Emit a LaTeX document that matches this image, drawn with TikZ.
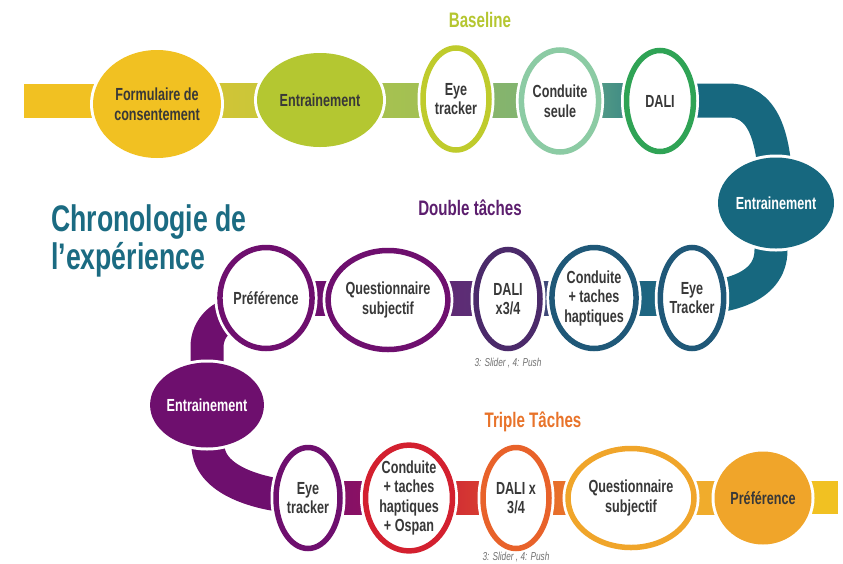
\documentclass[tikz,border=0pt]{standalone}
\usepackage{fontspec}
\setmainfont{Liberation Sans}[FakeStretch=0.72]
\usetikzlibrary{shapes.geometric,backgrounds}

% palette
\definecolor{cSun}{HTML}{F1C122}
\definecolor{cLime}{HTML}{B4C731}
\definecolor{cLimeRing}{HTML}{BFCB2C}
\definecolor{cMint}{HTML}{8CCBA4}
\definecolor{cLeaf}{HTML}{2FA355}
\definecolor{cPetrol}{HTML}{17687F}
\definecolor{cNavy}{HTML}{1F5878}
\definecolor{cGrape}{HTML}{4B2A6A}
\definecolor{cPlum}{HTML}{6E0F6E}
\definecolor{cCherry}{HTML}{D3202F}
\definecolor{cRust}{HTML}{E8622A}
\definecolor{cAmber}{HTML}{F0A52A}
\definecolor{cInk}{HTML}{383838}
\definecolor{cTitle}{HTML}{1B6B82}
\definecolor{cBase}{HTML}{B5C630}
\definecolor{cDouble}{HTML}{5C1E6E}
\definecolor{cTriple}{HTML}{E8732A}
\definecolor{cNote}{HTML}{707070}
% band shades
\definecolor{bA1}{HTML}{DCC530}
\definecolor{bA2}{HTML}{BFC63F}
\definecolor{bA3}{HTML}{AEC34C}
\definecolor{bA4}{HTML}{9EBF55}
\definecolor{bA5}{HTML}{8DB766}
\definecolor{bA6}{HTML}{7BB176}
\definecolor{bA7}{HTML}{6BAE8B}
\definecolor{bA8}{HTML}{2A7A80}
\definecolor{bB1}{HTML}{1F6080}
\definecolor{bB2}{HTML}{1E6A82}
\definecolor{bB3}{HTML}{4E3A74}
\definecolor{bB4}{HTML}{2C5A7C}
\definecolor{bB5}{HTML}{6A2070}
\definecolor{bB6}{HTML}{553478}
\definecolor{bC1}{HTML}{7C0F6C}
\definecolor{bC2}{HTML}{96125C}
\definecolor{bC3}{HTML}{C8183A}
\definecolor{bC4}{HTML}{DE4E2C}
\definecolor{bC5}{HTML}{E4602A}
\definecolor{bC6}{HTML}{EE8A2C}
\definecolor{bC7}{HTML}{F0AC2C}

\newcommand{\stagefont}{\fontsize{17.5}{19.5}\selectfont\bfseries}
\newcommand{\phasefont}{\fontsize{21}{24}\selectfont\bfseries}
\newcommand{\titlefont}{\fontsize{37}{38}\selectfont\bfseries}
\newcommand{\notefont}{\fontsize{11.5}{13}\selectfont\itshape}
% straight piece of the band between two stages of one row
\newcommand{\seg}[5] {
    \fill[left color=#4,right color=#5] (#1.center |- top#3) rectangle (#2.center |- bot#3);
}

\begin{document}
\begin{tikzpicture}[x=1pt,y=-1pt,
    stage/.style={ellipse,inner sep=0pt,align=center,text=cInk,font=\stagefont},
    ring/.style={stage,draw=#1,line width=5.5pt,fill=white,
        preaction={draw=white,line width=11pt}},
    blob/.style={stage,fill=#1,preaction={draw=white,line width=6pt}},
    band/.style={draw=#1,line width=33pt},
    phase/.style={font=\phasefont},
    note/.style={font=\notefont,text=cNote}
]
    \useasboundingbox (0,0) rectangle (843,563);

    % Baseline
    \node[blob=cSun,minimum width=128,minimum height=108] (f1) at (157,104) {Formulaire de\\consentement};
    \node[blob=cLime,minimum width=126,minimum height=94] (e1) at (320,100) {Entrainement};
    \node[ring=cLimeRing,minimum width=66,minimum height=102] (t1) at (456,99) {Eye\\tracker};
    \node[ring=cMint,minimum width=70,minimum height=102] (c1) at (560,101) {Conduite\\seule};
    \node[ring=cLeaf,minimum width=67,minimum height=101] (d1) at (660,101) {DALI};
    \node[blob=cPetrol,minimum width=116,minimum height=91,text=white] (e2) at (776,203) {Entrainement};

    % Double taches
    \node[ring=cNavy,minimum width=57,minimum height=101] (t2) at (692,298) {Eye\\Tracker};
    \node[ring=cNavy,minimum width=72,minimum height=101] (c2) at (594,298) {Conduite\\+ taches\\haptiques};
    \node[ring=cGrape,minimum width=64,minimum height=99] (d2) at (508,299) {DALI\\x3/4};
    \node[ring=cPlum,minimum width=110,minimum height=99] (q2) at (388,300) {Questionnaire\\subjectif};
    \node[ring=cPlum,minimum width=91,minimum height=101] (p2) at (266,298) {Préférence};
    \node[blob=cPlum,minimum width=110,minimum height=85,text=white] (e3) at (207,405) {Entrainement};

    % Triple taches
    \node[ring=cPlum,minimum width=64,minimum height=101] (t3) at (308,498) {Eye\\tracker};
    \node[ring=cCherry,minimum width=87,minimum height=101] (c3) at (409,498) {Conduite\\+ taches\\haptiques\\+ Ospan};
    \node[ring=cRust,minimum width=66,minimum height=101] (d3) at (516,498) {DALI x\\3/4};
    \node[ring=cAmber,minimum width=126,minimum height=99] (q3) at (631,498) {Questionnaire\\subjectif};
    \node[blob=cAmber,minimum width=97,minimum height=93] (p3) at (763,498) {Préférence};

    % titles and notes
    \node[phase,text=cBase] (base) at (480,20) {Baseline};
    \node[phase,text=cDouble] (dbl) at (470,208) {Double tâches};
    \node[phase,text=cTriple] (tri) at (533,422) {Triple Tâches};
    \node[note] (n2) at (508,363) {3: Slider , 4: Push};
    \node[note] (n3) at (516,557) {3: Slider , 4: Push};
    \node[font=\titlefont,text=cTitle,align=left,anchor=north west,inner sep=0pt] (ttl) at (51,204) {Chronologie de\\l'expérience};

    % the road behind the stages
    \begin{scope}[on background layer]
        \coordinate (topA) at (0,83.5);  \coordinate (botA) at (0,117.5);
        \coordinate (topB) at (0,281);   \coordinate (botB) at (0,315);
        \coordinate (topC) at (0,481);   \coordinate (botC) at (0,514);
        \coordinate (start) at (24,83.5);
        \coordinate (finish) at (838,514);
        \coordinate (bendA) at (728,100.5);
        \coordinate (bendB) at (771,250);
        \coordinate (bendC) at (241,313);
        \coordinate (bendE) at (207,347);
        \coordinate (bendD) at (208,445);

        \fill[cSun] (start) rectangle (f1.center |- botA);
        \seg{f1}{e1}{A}{bA1}{bA2}
        \seg{e1}{t1}{A}{bA3}{bA4}
        \seg{t1}{c1}{A}{bA5}{bA6}
        \seg{c1}{d1}{A}{bA7}{bA8}
        \draw[band=cPetrol,line width=34pt] (d1.center) -- (bendA)
            .. controls +(34,0) and +(0,-70) .. (e2.center);
        \draw[band=cPetrol] (e2.center) -- (bendB)
            .. controls +(0,40) and +(30,0) .. (t2.center |- 0,298) -- (t2.center);

        \seg{c2}{t2}{B}{bB1}{bB2}
        \seg{d2}{c2}{B}{bB3}{bB4}
        \seg{q2}{d2}{B}{bB5}{bB6}
        \seg{p2}{q2}{B}{cPlum}{cPlum}
        \draw[band=cPlum] (p2.center) -- ++(0,15) -- (bendC)
            .. controls +(-18.8,0) and +(0,-18.8) .. (bendE) -- (e3.center);
        \draw[band=cPlum] (e3.center) -- (bendD)
            .. controls +(0,40) and +(-35,0) .. (t3.center |- 0,497.5) -- (t3.center);

        \seg{t3}{c3}{C}{bC1}{bC2}
        \seg{c3}{d3}{C}{bC3}{bC4}
        \seg{d3}{q3}{C}{bC5}{bC6}
        \seg{q3}{p3}{C}{bC7}{bC7}
        \fill[cSun] (p3.center |- topC) rectangle (finish);
    \end{scope}
\end{tikzpicture}
\end{document}
